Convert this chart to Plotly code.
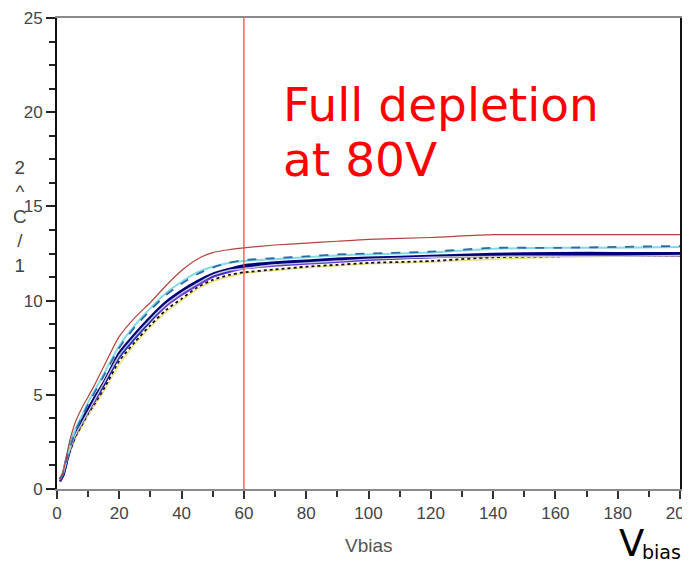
import plotly.graph_objects as go

# Bias voltage grid (V)
vbias = [1, 2, 3, 4, 6, 8, 10, 12, 15, 20, 25, 30, 35, 40, 45, 50, 55, 60,
         70, 80, 90, 100, 120, 140, 160, 180, 200]

# 1/C^2 curves for several sensors
c_red = [0.5, 0.9, 1.7, 2.5, 3.6, 4.3, 4.9, 5.5, 6.5, 8.1, 9.1, 9.9, 10.8, 11.6, 12.2, 12.55, 12.7, 12.8,
         12.95, 13.05, 13.15, 13.25, 13.35, 13.5, 13.5, 13.5, 13.5]
c_cyan = [0.5, 0.9, 1.6, 2.2, 3.2, 3.9, 4.6, 5.2, 6.1, 7.6, 8.7, 9.6, 10.4, 11.0, 11.5, 11.8, 12.0, 12.1,
          12.2, 12.3, 12.4, 12.45, 12.55, 12.75, 12.8, 12.8, 12.85]
c_steel = [0.5, 0.8, 1.5, 2.1, 3.1, 3.8, 4.5, 5.1, 6.0, 7.5, 8.6, 9.5, 10.3, 10.9, 11.4, 11.75, 12.0, 12.15,
           12.25, 12.35, 12.45, 12.5, 12.6, 12.8, 12.8, 12.85, 12.9]
c_navy = [0.5, 0.8, 1.5, 2.1, 3.0, 3.6, 4.2, 4.8, 5.6, 7.2, 8.2, 9.1, 9.9, 10.5, 11.0, 11.4, 11.65, 11.85,
          12.0, 12.1, 12.2, 12.25, 12.35, 12.45, 12.5, 12.5, 12.5]
c_blue = [0.4, 0.8, 1.4, 2.0, 2.9, 3.5, 4.1, 4.7, 5.5, 7.0, 8.0, 8.9, 9.8, 10.4, 10.9, 11.3, 11.55, 11.75,
          11.9, 12.0, 12.1, 12.2, 12.3, 12.4, 12.45, 12.45, 12.45]
c_purple = [0.4, 0.7, 1.3, 2.0, 2.9, 3.5, 4.1, 4.6, 5.5, 7.0, 8.0, 8.9, 9.7, 10.3, 10.8, 11.25, 11.5, 11.7,
            11.85, 11.95, 12.05, 12.15, 12.3, 12.35, 12.4, 12.4, 12.4]
c_dotted = [0.4, 0.7, 1.3, 1.9, 2.8, 3.4, 4.0, 4.5, 5.3, 6.8, 7.8, 8.7, 9.5, 10.1, 10.7, 11.1, 11.35, 11.5,
            11.65, 11.8, 11.9, 12.0, 12.1, 12.3, 12.35, 12.4, 12.4]
c_gray = [0.5, 0.8, 1.4, 2.0, 2.9, 3.5, 4.1, 4.7, 5.6, 7.1, 8.1, 9.0, 9.8, 10.4, 10.9, 11.35, 11.6, 11.7,
          11.9, 12.0, 12.1, 12.2, 12.3, 12.35, 12.35, 12.35, 12.4]
c_yellow = [0.4, 0.7, 1.2, 1.8, 2.7, 3.3, 3.9, 4.4, 5.2, 6.6, 7.7, 8.6, 9.4, 10.0, 10.6, 11.0, 11.25, 11.45,
            11.6, 11.75, 11.85, 11.95, 12.05, 12.2, 12.3, 12.35, 12.35]
c_magenta = [0.5, 0.8, 1.6, 2.3, 3.2, 3.8, 4.3, 4.9, 5.7, 7.1, 8.1, 9.0, 9.8, 10.3, 10.8, 11.25, 11.5, 11.75,
             11.9, 12.0, 12.1, 12.2, 12.3, 12.4, 12.4, 12.4, 12.4]

x_ticks = [0, 20, 40, 60, 80, 100, 120, 140, 160, 180, 200]
y_ticks = [0, 5, 10, 15, 20, 25]
depletion_v = 60

series = [
    (c_yellow, "#ece27a", 1.5, "solid"),
    (c_magenta, "#a03070", 1.2, "solid"),
    (c_dotted, "#111111", 1.8, "dot"),
    (c_purple, "#7a3ce0", 2.0, "solid"),
    (c_blue, "#1f2fc8", 2.0, "solid"),
    (c_navy, "#00007a", 3.2, "solid"),
    (c_gray, "#c8c8d0", 1.4, "solid"),
    (c_cyan, "#7fdce4", 2.0, "solid"),
    (c_steel, "#2d6aa8", 1.8, "dash"),
    (c_red, "#b5443e", 1.2, "solid"),
]

fig = go.Figure()
for ys, col, w, dash in series:
    fig.add_trace(go.Scatter(x=vbias, y=ys, mode="lines", line_shape="spline",
                             line=dict(color=col, width=w, dash=dash, smoothing=0.6),
                             showlegend=False, hoverinfo="skip"))

fig.add_shape(type="line", x0=depletion_v, x1=depletion_v, y0=0, y1=25,
              xref="x", yref="y", line=dict(color="#ff3b3b", width=1.2))

tick_font = dict(family="Liberation Sans", size=17, color="#444444")

# page body has an 8px margin on every side; keep the figure inside the
# viewport (no scrollbars) so the plot area sits where the reference has it
OFF = 8
PLOT_L, PLOT_R, PLOT_T, PLOT_B = 57, 680, 18, 489
FIG_W, FIG_H = 674, 555
fig.update_layout(
    width=FIG_W, height=FIG_H,
    margin=dict(l=PLOT_L - OFF, r=FIG_W + OFF - PLOT_R, t=PLOT_T - OFF, b=FIG_H + OFF - PLOT_B),
    paper_bgcolor="white", plot_bgcolor="white",
    xaxis=dict(range=[0, 200], tickvals=x_ticks, ticktext=[str(v) for v in x_ticks],
               showgrid=False, zeroline=False, ticklabeloverflow="allow", automargin=False,
               showline=True, linecolor="#8a8a8a", linewidth=1.5, mirror=True,
               ticks="outside", ticklen=8, tickcolor="#333333", tickwidth=1.5,
               minor=dict(dtick=10, tick0=0, ticks="outside", ticklen=6,
                          tickcolor="#333333", tickwidth=1.5, showgrid=False),
               tickfont=tick_font),
    yaxis=dict(range=[0, 25], tickvals=y_ticks, ticktext=[str(v) for v in y_ticks],
               showgrid=False, zeroline=False, automargin=False,
               showline=True, linecolor="#111111", linewidth=2, mirror=True,
               ticks="outside", ticklen=9, tickcolor="#222222", tickwidth=1.5,
               minor=dict(dtick=1.25, tick0=0, ticks="outside", ticklen=6,
                          tickcolor="#222222", tickwidth=1.5, showgrid=False),
               tickfont=tick_font),
)


def px(xp):
    return (xp - PLOT_L) / (PLOT_R - PLOT_L)

def py(yp):
    return (PLOT_B - yp) / (PLOT_B - PLOT_T)

ann = [
    dict(text="Full depletion", x=px(281), y=py(105), size=47, color="#ff0000",
         xanchor="left", family="DejaVu Sans"),
    dict(text="at 80V", x=px(281), y=py(159), size=47, color="#ff0000",
         xanchor="left", family="DejaVu Sans"),
    dict(text="V", x=px(617), y=py(543), size=37, color="#000000",
         xanchor="left", family="DejaVu Sans"),
    dict(text="bias", x=px(640), y=py(552), size=19, color="#000000",
         xanchor="left", family="DejaVu Sans"),
    dict(text="Vbias", x=px(369), y=py(545), size=19, color="#555555",
         xanchor="center", family="Liberation Sans"),
    dict(text="2<br>^<br>C<br>/<br>1", x=px(20), y=py(216), size=18.8, color="#444444",
         xanchor="center", family="Liberation Sans"),
]
for a in ann:
    fig.add_annotation(text=a["text"], x=a["x"], y=a["y"], xref="paper", yref="paper",
                       xanchor=a["xanchor"], yanchor="middle", showarrow=False,
                       font=dict(family=a["family"], size=a["size"], color=a["color"]),
                       align="center")

fig.write_html("out.html")
